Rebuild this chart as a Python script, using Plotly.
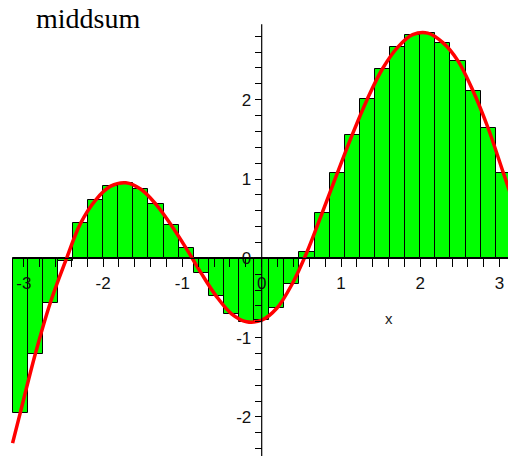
import numpy as np
import plotly.graph_objects as go

# ---- data ----
a, b = -np.pi, np.pi          # interval of the middle sum
n_bars = 33                   # number of rectangles
# heights of the rectangles (function value at each midpoint), left to right
bar_heights = [-1.955, -1.21, -0.56, -0.04, 0.44, 0.735, 0.91, 0.953, 0.87, 0.68,
               0.42, 0.126, -0.19, -0.48, -0.70, -0.80, -0.78, -0.63, -0.33, 0.08,
               0.57, 1.07, 1.56, 2.01, 2.39, 2.66, 2.82, 2.84, 2.72, 2.49,
               2.11, 1.64, 1.08]
# function values at the interval ends
f_left, f_right = -2.33, 0.80

x_tick_vals = [-3, -2, -1, 0, 1, 2, 3]
x_tick_text = ["-3", "-2", "-1", "0", "1", "2", "3"]
y_tick_vals = [-2, -1, 0, 1, 2]
y_tick_text = ["-2", "-1", "0", "1", "2"]
title_text = "middsum"
x_label = "x"
y_axis_extent = (-2.6, 2.95)

# ---- derived ----
dx = (b - a) / n_bars
centers = [a + (i + 0.5) * dx for i in range(n_bars)]
curve_x = [a] + centers + [b]
curve_y = [f_left] + bar_heights + [f_right]

x_minor = [round(v, 1) for v in np.arange(-3.0, 3.0001, 0.2)]
y_minor = [round(v, 1) for v in np.arange(-2.4, 2.8001, 0.2)]

# page has an 8px body margin, so the figure is placed at (8, 8)
OFF = 8
W, H = 516 - OFF, 456 - OFF
x0px, xscale = 261.7 - OFF, 79.3
y0px, yscale = 258.3 - OFF, 79.3
x_range = [-x0px / xscale, (W - x0px) / xscale]
y_range = [(y0px - H) / yscale, y0px / yscale]

tick_font = dict(family="Liberation Sans, Arial, sans-serif", size=17, color="#111")

fig = go.Figure()
fig.add_trace(go.Bar(
    x=centers, y=bar_heights, width=dx,
    marker=dict(color="#00ff00", line=dict(color="black", width=1)),
    hoverinfo="skip", showlegend=False,
))
fig.add_trace(go.Scatter(
    x=curve_x, y=curve_y, mode="lines",
    line=dict(color="#ff0000", width=3.5, shape="spline", smoothing=1),
    showlegend=False, hoverinfo="skip",
))

fig.update_layout(
    width=W, height=H,
    margin=dict(l=0, r=0, t=0, b=0),
    paper_bgcolor="white", plot_bgcolor="white",
    bargap=0,
    showlegend=False,
    xaxis=dict(
        range=x_range, anchor="free", position=(H - y0px) / H,
        showline=False, showgrid=False, zeroline=False,
        tickmode="array", tickvals=x_tick_vals, ticktext=x_tick_text,
        ticks="outside", ticklen=8, tickwidth=1, tickcolor="black",
        ticklabelstandoff=1,
        minor=dict(tickmode="array", tickvals=x_minor, ticks="outside",
                   ticklen=8, tickwidth=1, tickcolor="black", showgrid=False),
        tickfont=tick_font, layer="above traces", fixedrange=True,
    ),
    yaxis=dict(
        range=y_range, anchor="free", position=x0px / W,
        showline=False, showgrid=False, zeroline=False,
        tickmode="array", tickvals=y_tick_vals, ticktext=y_tick_text,
        ticks="outside", ticklen=7, tickwidth=1, tickcolor="black",
        ticklabelstandoff=0,
        minor=dict(tickmode="array", tickvals=y_minor, ticks="outside",
                   ticklen=7, tickwidth=1, tickcolor="black", showgrid=False),
        tickfont=tick_font, layer="above traces", fixedrange=True,
    ),
    shapes=[
        dict(type="line", xref="x", yref="y", x0=a, x1=b, y0=0, y1=0,
             line=dict(color="black", width=1.2), layer="above"),
        dict(type="line", xref="x", yref="y", x0=0, x1=0,
             y0=y_axis_extent[0], y1=y_axis_extent[1],
             line=dict(color="black", width=1.2), layer="above"),
    ],
    annotations=[
        dict(text=title_text, xref="paper", yref="paper",
             x=(35 - OFF) / W, y=1 - (18.5 - OFF) / H, xanchor="left", yanchor="middle",
             showarrow=False, borderpad=0,
             font=dict(family="Liberation Serif, Times New Roman, serif", size=28, color="black")),
        dict(text=x_label, xref="x", yref="y", x=1.605, y=-0.76,
             xanchor="center", yanchor="middle", showarrow=False,
             font=dict(family="Liberation Sans, Arial, sans-serif", size=15, color="#222")),
    ],
)

fig.write_html("out.html")
